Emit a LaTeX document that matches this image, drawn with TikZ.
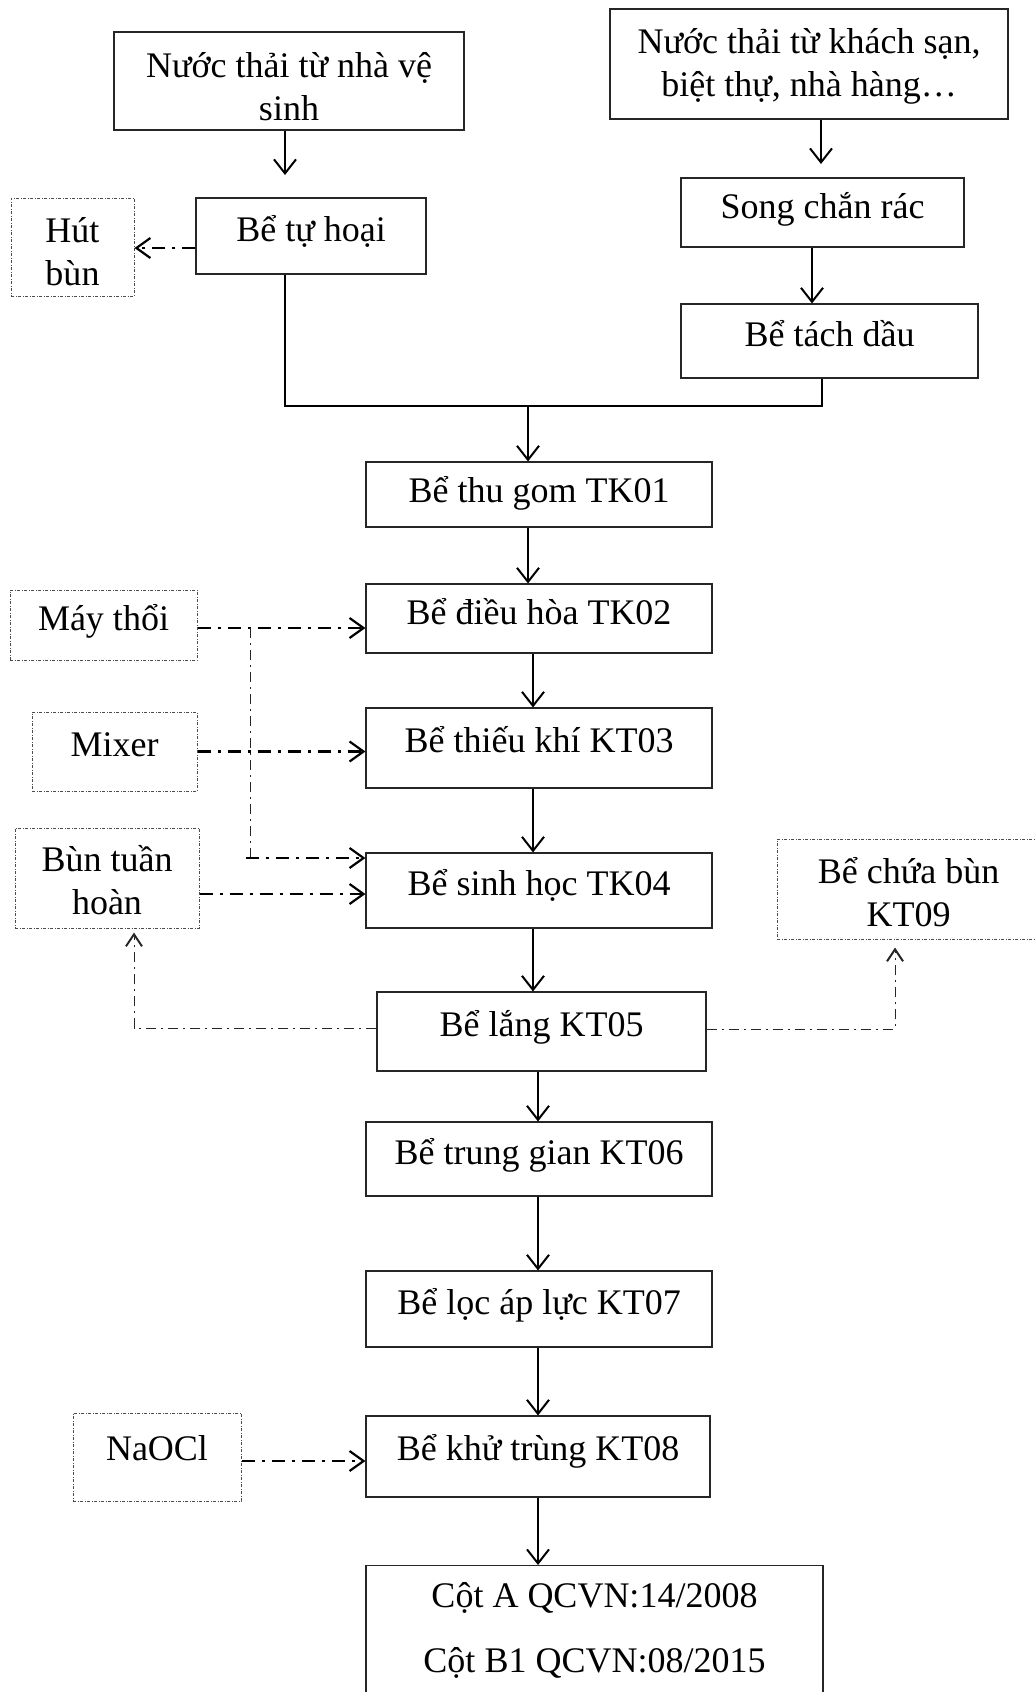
\documentclass[tikz,border=0pt]{standalone}
\usepackage{fontspec}
\setmainfont{Liberation Serif}
\usetikzlibrary{arrows.meta}
\newcommand{\twoline}[3]{\begin{tabular}{@{}c@{}}\noalign{\vskip #1}#2\\#3\\\noalign{\vskip -#1}\end{tabular}}
\begin{document}
\begin{tikzpicture}[x=0.5pt,y=-0.5pt,
  txt/.style={font=\fontsize{18}{21.5}\selectfont, align=center, inner sep=0pt},
  box/.style={txt, draw=black!85, line width=0.55pt, text height=0.75em, text depth=0.25em},
  mbox/.style={txt, draw=black!85, line width=0.55pt},
  dbox/.style={txt, draw=black!70, line width=0.5pt, dash pattern=on 1.5pt off 0.8pt on 0.4pt off 0.8pt},
  sbox/.style={dbox, text height=0.75em, text depth=0.25em},
  line/.style={draw=black, line width=0.95pt},
  arr/.style={line, -{Straight Barb[length=7pt,width=11pt,line width=1pt]}},
  darr/.style={draw=black, line width=1.05pt, dash pattern=on 6.5pt off 3.5pt on 1.5pt off 3.5pt,
     -{Straight Barb[length=7pt,width=10pt,line width=1.1pt]}},
  tline/.style={draw=black!85, line width=0.5pt, dash pattern=on 5pt off 2.5pt on 1pt off 2.5pt},
  tarr/.style={tline, -{Straight Barb[length=6pt,width=8pt,line width=1pt]}}
]
\useasboundingbox (0,0) rectangle (1036,1692);
\fill[white] (0,0) rectangle (1036,1692);
\clip (0,0) rectangle (1036,1692);

% top sources (sizes in pt = half the pixel size)
\node[mbox, minimum width=175pt, minimum height=49pt] (n1) at (289,81)
  {\twoline{4.5pt}{Nước thải từ nhà vệ}{sinh}};
\node[mbox, minimum width=199pt, minimum height=55pt] (n2) at (809,64)
  {\twoline{1pt}{Nước thải từ khách sạn,}{biệt thự, nhà hàng…}};
\node[box, minimum width=141.5pt, minimum height=34.5pt, text depth=0.12em] (scr) at (822.5,212.5) {Song chắn rác};
\node[box, minimum width=148.5pt, minimum height=37pt, text depth=0.18em] (tdau) at (829.5,341) {Bể tách dầu};
\node[box, minimum width=115pt, minimum height=38pt] (tuhoai) at (311,236) {Bể tự hoại};
\node[dbox, minimum width=61.5pt, minimum height=49pt] (hutbun) at (72.5,247)
  {\twoline{4pt}{Hút}{bùn}};

% main column
\node[box, minimum width=173pt, minimum height=32.5pt, text depth=-0.05em] (tk01) at (539,494.5) {Bể thu gom TK01};
\node[box, minimum width=173pt, minimum height=34.5pt, text depth=0.2em] (tk02) at (539,618.5) {Bể điều hòa TK02};
\node[box, minimum width=173pt, minimum height=40pt, text depth=0.3em] (kt03) at (539,748) {Bể thiếu khí KT03};
\node[box, minimum width=173pt, minimum height=37.5pt] (tk04) at (539,890.5) {Bể sinh học TK04};
\node[box, minimum width=164.5pt, minimum height=39.5pt, text depth=0.3em] (kt05) at (541.5,1031.5) {Bể lắng KT05};
\node[box, minimum width=173pt, minimum height=37pt] (kt06) at (539,1159) {Bể trung gian KT06};
\node[box, minimum width=173pt, minimum height=38pt] (kt07) at (539,1309) {Bể lọc áp lực KT07};
\node[box, minimum width=172pt, minimum height=40.5pt, text depth=0.4em] (kt08) at (538,1456.5) {Bể khử trùng KT08};
\node[mbox, minimum width=228.5pt, minimum height=75pt, anchor=north] (cot) at (594.5,1565)
  {\begin{tabular}{@{}c@{}}Cột A QCVN:14/2008\\[11pt]Cột B1 QCVN:08/2015\\[9.5pt]\end{tabular}};

% side boxes
\node[sbox, minimum width=93.5pt, minimum height=35pt, text depth=0.2em] (maythoi) at (103.5,625) {Máy thổi};
\node[sbox, minimum width=82.5pt, minimum height=39.5pt] (mixer) at (114.5,751.5) {Mixer};
\node[dbox, minimum width=92pt, minimum height=50pt] (buntuan) at (107,878)
  {\twoline{3pt}{Bùn tuần}{hoàn}};
\node[sbox, minimum width=84pt, minimum height=44pt, text depth=0.45em] (naocl) at (157,1457) {NaOCl};
\node[dbox, minimum width=131.5pt, minimum height=50pt] (kt09) at (908.5,889)
  {\twoline{3.75pt}{Bể chứa bùn}{KT09}};

% helper coordinates
\coordinate (a1) at (285,175);
\coordinate (a2) at (821,164);
\coordinate (a3) at (812,275);
\coordinate (jl) at (285,406);
\coordinate (jr) at (822,406);
\coordinate (jm) at (528,406);
\coordinate (xb) at (533,0);
\coordinate (xc) at (538,0);
\coordinate (h) at (0,248);
\coordinate (v1) at (250,628);
\coordinate (v2) at (250,858);
\coordinate (b) at (0,894);
\coordinate (rl) at (134,1028);
\coordinate (rr) at (895,1029);
\coordinate (na) at (0,1461);

% solid flow
\draw[arr] (n1.south -| a1) -- (a1);
\draw[arr] (n2.south -| a2) -- (a2);
\draw[arr] (scr.south -| a3) -- (tdau.north -| a3);
\draw[line] (tuhoai.south -| jl) -- (jl) -- (jr) -- (tdau.south -| jr);
\draw[arr] (jm) -- (tk01.north -| jm);
\draw[arr] (tk01.south -| jm) -- (tk02.north -| jm);
\draw[arr] (tk02.south -| xb) -- (kt03.north -| xb);
\draw[arr] (kt03.south -| xb) -- (tk04.north -| xb);
\draw[arr] (tk04.south -| xb) -- (kt05.north -| xb);
\draw[arr] (kt05.south -| xc) -- (kt06.north -| xc);
\draw[arr] (kt06.south -| xc) -- (kt07.north -| xc);
\draw[arr] (kt07.south -| xc) -- (kt08.north -| xc);
\draw[arr] (kt08.south -| xc) -- (cot.north -| xc);

% dash-dot feeds
\draw[darr] (tuhoai.west |- h) -- (hutbun.east |- h);
\draw[darr] (maythoi.east |- v1) -- (tk02.west |- v1);
\draw[darr] (mixer.east) -- (kt03.west |- mixer.east);
\draw[tline] (v1) -- (v2);
\draw[darr] ([xshift=-2pt]v2) -- (tk04.west |- v2);
\draw[darr] (buntuan.east |- b) -- (tk04.west |- b);
\draw[darr] (naocl.east |- na) -- (kt08.west |- na);

% sludge returns
\draw[tarr] (kt05.west |- rl) -- (rl) -- ([yshift=-2pt]buntuan.south -| rl);
\draw[tarr] (kt05.east |- rr) -- (rr) -- ([yshift=-4pt]kt09.south -| rr);
\end{tikzpicture}
\end{document}
